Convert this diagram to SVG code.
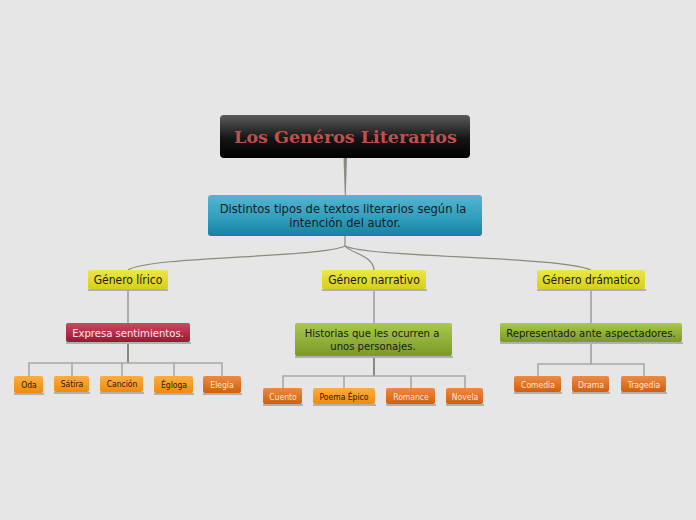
<svg xmlns="http://www.w3.org/2000/svg" width="696" height="520" viewBox="0 0 696 520">
<defs>
<linearGradient id="gBlack" x1="0" y1="0" x2="0" y2="1"><stop offset="0" stop-color="#5a5a5a"/><stop offset="0.55" stop-color="#151515"/><stop offset="1" stop-color="#000"/></linearGradient>
<linearGradient id="gBlue" x1="0" y1="0" x2="0" y2="1"><stop offset="0" stop-color="#52b6d3"/><stop offset="0.6" stop-color="#2f9cbc"/><stop offset="1" stop-color="#1681a1"/></linearGradient>
<linearGradient id="gYellow" x1="0" y1="0" x2="0" y2="1"><stop offset="0" stop-color="#ece64a"/><stop offset="1" stop-color="#d8cf1a"/></linearGradient>
<linearGradient id="gRed" x1="0" y1="0" x2="0" y2="1"><stop offset="0" stop-color="#c94a62"/><stop offset="1" stop-color="#9c1630"/></linearGradient>
<linearGradient id="gGreen" x1="0" y1="0" x2="0" y2="1"><stop offset="0" stop-color="#a8c84e"/><stop offset="1" stop-color="#7b9a26"/></linearGradient>
<linearGradient id="gOrL" x1="0" y1="0" x2="0" y2="1"><stop offset="0" stop-color="#fbad3e"/><stop offset="1" stop-color="#ef8b10"/></linearGradient>
<linearGradient id="gOrD" x1="0" y1="0" x2="0" y2="1"><stop offset="0" stop-color="#ee8a44"/><stop offset="1" stop-color="#d0600e"/></linearGradient>
</defs>
<style>
.sh{fill:#b0b0b0}
.c{fill:none;stroke:#8a8a80;stroke-width:1.2}
.b{fill:none;stroke:#a8a8a4;stroke-width:1.6}
.t{font-family:"DejaVu Sans Condensed","DejaVu Sans",sans-serif;font-stretch:condensed;text-anchor:middle}
.m{font-size:12px;fill:#1a1a1a}
.n{font-size:11.2px;fill:#1a1a1a}
.s{font-size:8.5px}
.dk{fill:#2a1a00}
.wh{fill:#fbe7d6}
</style>
<rect width="696" height="520" fill="#e6e6e6"/>
<g id="connectors">
<path d="M343.5,158 L347,158 L345.8,195 L344.8,195 Z" fill="#8a8a80"/>
<path class="c" d="M345,236 V246"/>
<path class="c" d="M345,246 C320,258 150,256 128,270"/>
<path class="c" d="M345,246 C350,253 373,255 374,270"/>
<path class="c" d="M345,246 C370,258 560,256 591,270"/>
<path class="c" d="M128,291 V323"/>
<path class="c" d="M374,291 V323"/>
<path class="c" d="M591,291 V323"/>
<path class="c" d="M128,343 V363" style="stroke-width:2"/>
<path class="b" d="M29,376 V363 H222 V376 M72,363 V376 M122,363 V376 M174,363 V376"/>
<path class="c" d="M374,357 V376" style="stroke-width:2"/>
<path class="b" d="M283,388 V376 H465 V388 M344,376 V388 M411,376 V388"/>
<path class="c" d="M591,343 V364"/>
<path class="b" d="M538,376 V364 H644 V376"/>
</g>
<g id="title">
<rect x="220" y="115" width="250" height="43" rx="4" fill="url(#gBlack)"/>
<text x="345.5" y="143" font-family="DejaVu Serif,serif" font-weight="bold" font-size="17.5" fill="#c0504d" text-anchor="middle">Los Genéros Literarios</text>
</g>
<g id="distintos">
<rect x="208" y="195" width="274" height="41" rx="3" fill="url(#gBlue)"/>
<text class="t m" x="343" y="213" style="font-size:12.8px">Distintos tipos de textos literarios según la</text>
<text class="t m" x="345" y="227" style="font-size:12.8px">intención del autor.</text>
</g>
<g id="lirico">
<rect class="sh" x="88" y="289" width="80" height="2"/>
<rect x="88" y="270" width="80" height="19" rx="2" fill="url(#gYellow)"/>
<text class="t m" x="128" y="284">Género lírico</text>
</g>
<g id="narrativo">
<rect class="sh" x="322" y="289" width="105" height="2"/>
<rect x="322" y="270" width="104" height="19" rx="2" fill="url(#gYellow)"/>
<text class="t m" x="374" y="284">Género narrativo</text>
</g>
<g id="dramatico">
<rect class="sh" x="537" y="289" width="109" height="2"/>
<rect x="537" y="270" width="108" height="19" rx="2" fill="url(#gYellow)"/>
<text class="t m" x="591" y="284">Género drámatico</text>
</g>
<g id="expresa">
<rect class="sh" x="66" y="342" width="125" height="2"/>
<rect x="66" y="323" width="124" height="19" rx="2" fill="url(#gRed)"/>
<text class="t n" x="128" y="337" style="fill:#fbe8ec">Expresa sentimientos.</text>
</g>
<g id="historias">
<rect class="sh" x="295" y="356" width="158" height="2"/>
<rect x="295" y="323" width="157" height="33" rx="2" fill="url(#gGreen)"/>
<text class="t n" x="372" y="337">Historias que les ocurren a</text>
<text class="t n" x="373" y="350">unos personajes.</text>
</g>
<g id="representado">
<rect class="sh" x="500" y="342" width="183" height="2"/>
<rect x="500" y="323" width="182" height="19" rx="2" fill="url(#gGreen)"/>
<text class="t n" x="591" y="337">Representado ante aspectadores.</text>
</g>
<g id="oda"><rect class="sh" x="14" y="393" width="30" height="2"/><rect x="14" y="376" width="29" height="17" rx="2" fill="url(#gOrL)"/><text class="t s dk" x="29" y="388">Oda</text></g>
<g id="satira"><rect class="sh" x="54" y="392" width="36" height="2"/><rect x="54" y="376" width="35" height="16" rx="2" fill="url(#gOrL)"/><text class="t s dk" x="72" y="387">Sátira</text></g>
<g id="cancion"><rect class="sh" x="100" y="392" width="44" height="2"/><rect x="100" y="376" width="43" height="16" rx="2" fill="url(#gOrL)"/><text class="t s dk" x="122" y="387">Canción</text></g>
<g id="egloga"><rect class="sh" x="154" y="393" width="40" height="2"/><rect x="154" y="376" width="39" height="17" rx="2" fill="url(#gOrL)"/><text class="t s dk" x="174" y="388">Égloga</text></g>
<g id="elegia"><rect class="sh" x="203" y="393" width="39" height="2"/><rect x="203" y="376" width="38" height="17" rx="2" fill="url(#gOrD)"/><text class="t s wh" x="222" y="388">Elegía</text></g>
<g id="cuento"><rect class="sh" x="263" y="404" width="40" height="2"/><rect x="263" y="388" width="39" height="16" rx="2" fill="url(#gOrD)"/><text class="t s wh" x="283" y="400">Cuento</text></g>
<g id="poema"><rect class="sh" x="313" y="404" width="63" height="2"/><rect x="313" y="388" width="62" height="16" rx="2" fill="url(#gOrL)"/><text class="t s dk" x="344" y="400">Poema Épico</text></g>
<g id="romance"><rect class="sh" x="386" y="404" width="50" height="2"/><rect x="386" y="388" width="49" height="16" rx="2" fill="url(#gOrD)"/><text class="t s wh" x="411" y="400">Romance</text></g>
<g id="novela"><rect class="sh" x="446" y="404" width="38" height="2"/><rect x="446" y="388" width="37" height="16" rx="2" fill="url(#gOrD)"/><text class="t s wh" x="465" y="400">Novela</text></g>
<g id="comedia"><rect class="sh" x="514" y="392" width="48" height="2"/><rect x="514" y="376" width="47" height="16" rx="2" fill="url(#gOrD)"/><text class="t s wh" x="538" y="388">Comedia</text></g>
<g id="drama"><rect class="sh" x="572" y="392" width="38" height="2"/><rect x="572" y="376" width="37" height="16" rx="2" fill="url(#gOrD)"/><text class="t s wh" x="591" y="388">Drama</text></g>
<g id="tragedia"><rect class="sh" x="621" y="392" width="46" height="2"/><rect x="621" y="376" width="45" height="16" rx="2" fill="url(#gOrD)"/><text class="t s wh" x="644" y="388">Tragedia</text></g>
</svg>
